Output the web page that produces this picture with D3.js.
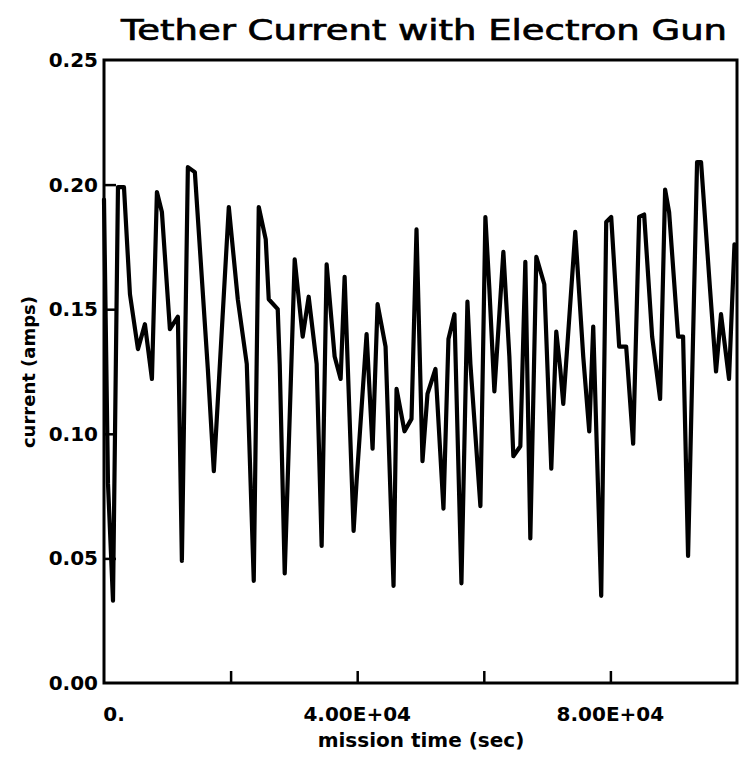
<!DOCTYPE html>
<html>
<head>
<meta charset="utf-8">
<script src="https://cdn.jsdelivr.net/npm/d3@7"></script>
<style>
  html, body { margin: 0; padding: 0; background: #fff; }
  svg { display: block; }
</style>
</head>
<body>
<script>
// ---- data ----
const missionTime = [
  0, 631, 1420, 2208, 3155, 4101, 5363, 6467, 7571, 8360,
  9148, 10410, 11672, 12303, 13249, 14353, 16404, 17350, 19716, 21136,
  22555, 23659, 24448, 25552, 26025, 27445, 27760, 28549, 30126, 31388,
  32334, 33596, 34385, 35174, 36435, 37382, 38013, 39432, 39905, 41483,
  42429, 43218, 44480, 45741, 46215, 47476, 48580, 49369, 50315, 51104,
  52366, 53628, 54416, 55363, 56467, 57413, 57886, 59464, 60252, 60883,
  61672, 63091, 64038, 64669, 65773, 66562, 67350, 68297, 69558, 70662,
  71451, 72082, 72555, 74448, 75710, 76656, 77287, 78549, 79338, 80126,
  81388, 82492, 83596, 84543, 85331, 86593, 87855, 88644, 89274, 90694,
  91483, 92271, 93691, 94322, 95741, 96688, 97476, 98738, 99600
];
const tetherCurrent = [
  0.194, 0.080, 0.033, 0.199, 0.199, 0.156, 0.134, 0.144, 0.122, 0.197,
  0.189, 0.142, 0.147, 0.049, 0.207, 0.205, 0.126, 0.085, 0.191, 0.154,
  0.128, 0.041, 0.191, 0.178, 0.154, 0.150, 0.128, 0.044, 0.170, 0.139,
  0.155, 0.128, 0.055, 0.168, 0.131, 0.122, 0.163, 0.061, 0.081, 0.140,
  0.094, 0.152, 0.135, 0.039, 0.118, 0.101, 0.106, 0.182, 0.089, 0.116,
  0.126, 0.070, 0.138, 0.148, 0.040, 0.153, 0.128, 0.071, 0.187, 0.158,
  0.117, 0.173, 0.131, 0.091, 0.095, 0.169, 0.058, 0.171, 0.160, 0.086,
  0.141, 0.126, 0.112, 0.181, 0.131, 0.101, 0.143, 0.035, 0.185, 0.187,
  0.135, 0.135, 0.096, 0.187, 0.188, 0.139, 0.114, 0.198, 0.189, 0.139,
  0.139, 0.051, 0.209, 0.209, 0.158, 0.125, 0.148, 0.122, 0.176
];
const yTickValues = [0.05, 0.10, 0.15, 0.20];
const yLabelValues = [0.00, 0.05, 0.10, 0.15, 0.20, 0.25];
const yLabelTexts = ["0.00", "0.05", "0.10", "0.15", "0.20", "0.25"];
const xTickValues = [20000, 40000, 60000, 80000];
const xLabelValues = [0, 40000, 80000];
const xLabelTexts = ["0.", "4.00E+04", "8.00E+04"];
const titleText = "Tether Current with Electron Gun";
const xAxisTitle = "mission time (sec)";
const yAxisTitle = "current (amps)";

// ---- layout ----
const W = 739, H = 757;
const mLeft = 104, mRight = 737, mTop = 60, mBottom = 683;

const svg = d3.select("body").append("svg")
  .attr("width", W).attr("height", H)
  .style("font-family", "'DejaVu Sans', sans-serif");

const x = d3.scaleLinear().domain([0, 100000]).range([mLeft, mRight]);
const y = d3.scaleLinear().domain([0, 0.25]).range([mBottom, mTop]);

// data line
const pts = missionTime.map((t, i) => [t, tetherCurrent[i]]);
svg.append("path")
  .datum(pts)
  .attr("fill", "none")
  .attr("stroke", "#000")
  .attr("stroke-width", 4.2)
  .attr("stroke-linejoin", "round")
  .attr("stroke-linecap", "round")
  .attr("d", d3.line().x(d => x(d[0])).y(d => y(d[1])));

// frame
svg.append("rect")
  .attr("x", mLeft).attr("y", mTop)
  .attr("width", mRight - mLeft).attr("height", mBottom - mTop)
  .attr("fill", "none").attr("stroke", "#000").attr("stroke-width", 3);

// inward ticks via d3 axes
const yAxis = d3.axisRight(y).tickValues(yTickValues).tickSize(12).tickFormat("");
const gy = svg.append("g").attr("transform", `translate(${mLeft},0)`).call(yAxis);
gy.select(".domain").remove();
gy.selectAll("line").attr("stroke", "#000").attr("stroke-width", 2.5);

const xAxis = d3.axisTop(x).tickValues(xTickValues).tickSize(12).tickFormat("");
const gx = svg.append("g").attr("transform", `translate(0,${mBottom})`).call(xAxis);
gx.select(".domain").remove();
gx.selectAll("line").attr("stroke", "#000").attr("stroke-width", 2.5);

// y tick labels
svg.append("g").selectAll("text")
  .data(yLabelValues)
  .join("text")
  .attr("x", mLeft - 6)
  .attr("y", d => y(d) + 7)
  .attr("text-anchor", "end")
  .attr("font-size", 20)
  .attr("font-weight", "bold")
  .text((d, i) => yLabelTexts[i]);

// x tick labels
svg.append("g").selectAll("text")
  .data(xLabelValues)
  .join("text")
  .attr("x", (d, i) => i === 0 ? x(d) + 10 : x(d))
  .attr("y", mBottom + 38)
  .attr("text-anchor", "middle")
  .attr("font-size", 20)
  .attr("font-weight", "bold")
  .text((d, i) => xLabelTexts[i]);

// title
svg.append("text")
  .attr("x", 424).attr("y", 40)
  .attr("text-anchor", "middle")
  .attr("font-size", 28)
  .attr("textLength", 606)
  .attr("lengthAdjust", "spacingAndGlyphs")
  .attr("stroke", "#000")
  .attr("stroke-width", 0.7)
  .text(titleText);

// axis titles
svg.append("text")
  .attr("x", 421).attr("y", 747)
  .attr("text-anchor", "middle")
  .attr("font-size", 20)
  .attr("font-weight", "bold")
  .text(xAxisTitle);

svg.append("text")
  .attr("transform", "translate(35,372) rotate(-90)")
  .attr("text-anchor", "middle")
  .attr("font-size", 18)
  .attr("font-weight", "bold")
  .text(yAxisTitle);
</script>
</body>
</html>
